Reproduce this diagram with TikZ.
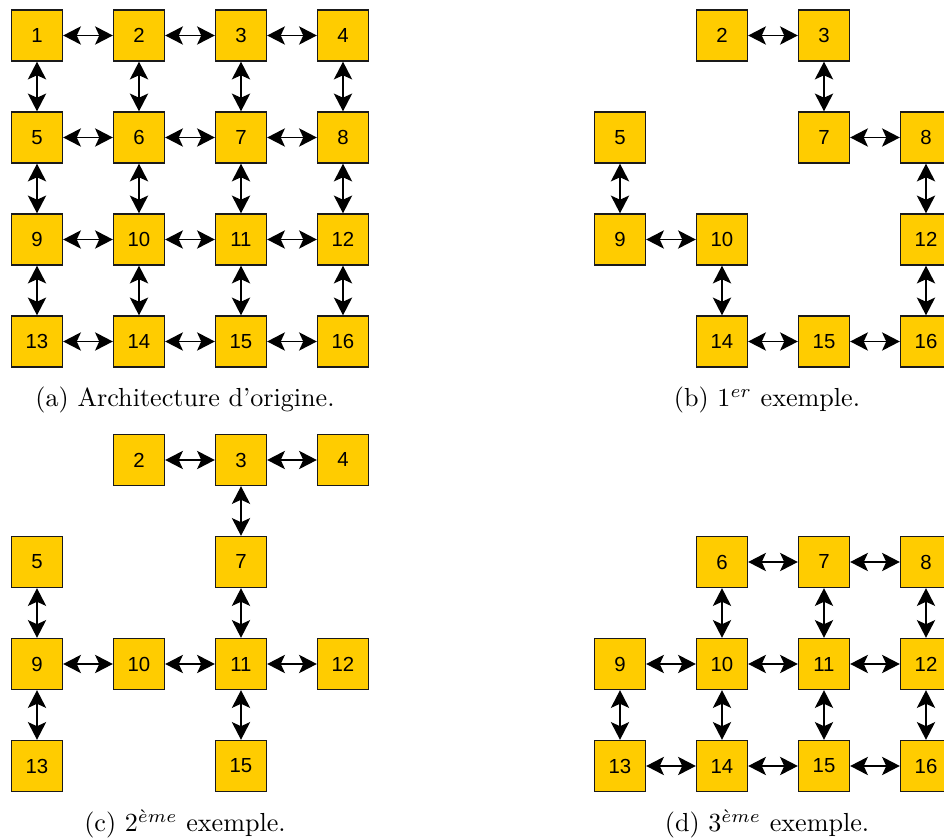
\documentclass[tikz,border=0pt]{standalone}
\usepackage{fontspec}
\newfontfamily\boxfont{Liberation Sans}
\usetikzlibrary{arrows.meta}
\definecolor{boxyellow}{HTML}{FFCC00}
\definecolor{boxedge}{HTML}{1A1A1A}
\begin{document}
\begin{tikzpicture}[x=0.383pt,y=-0.383pt,
  cell/.style={draw=boxedge,fill=boxyellow,line width=0.55pt,minimum size=19.5pt,inner sep=0pt,font=\boxfont\fontsize{7.8}{9}\selectfont},
  link/.style={{Stealth[length=6.8pt,width=7pt,inset=1.6pt]}-{Stealth[length=6.8pt,width=7pt,inset=1.6pt]},line width=0.65pt},
  captext/.style={anchor=base,inner sep=0pt,font=\normalsize}]
\useasboundingbox (0,0) rectangle (944,839);

% panel (a)
\foreach \n in {1,...,16} {
  \pgfmathtruncatemacro\cc{mod(\n-1,4)}
  \pgfmathtruncatemacro\rr{(\n-1)/4}
  \node[cell] (a\n) at ({37+102*\cc},{35.5+102*\rr}) {\n};
}
\foreach \s/\t in {1/2,2/3,3/4,5/6,6/7,7/8,9/10,10/11,11/12,13/14,14/15,15/16,
                   1/5,2/6,3/7,4/8,5/9,6/10,7/11,8/12,9/13,10/14,11/15,12/16}
  \draw[link] (a\s) -- (a\t);

% panel (b)
\foreach \n in {2,3,5,7,8,9,10,12,14,15,16} {
  \pgfmathtruncatemacro\cc{mod(\n-1,4)}
  \pgfmathtruncatemacro\rr{(\n-1)/4}
  \node[cell] (b\n) at ({620+102*\cc},{35.5+102*\rr}) {\n};
}
\foreach \s/\t in {2/3,3/7,5/9,7/8,8/12,9/10,10/14,12/16,14/15,15/16}
  \draw[link] (b\s) -- (b\t);

% panel (c)
\foreach \n in {2,3,4,5,7,9,10,11,12,13,15} {
  \pgfmathtruncatemacro\cc{mod(\n-1,4)}
  \pgfmathtruncatemacro\rr{(\n-1)/4}
  \node[cell] (c\n) at ({37+102*\cc},{460+102*\rr}) {\n};
}
\foreach \s/\t in {2/3,3/4,3/7,5/9,7/11,9/10,10/11,11/12,9/13,11/15}
  \draw[link] (c\s) -- (c\t);

% panel (d)
\foreach \n in {6,7,8,9,10,11,12,13,14,15,16} {
  \pgfmathtruncatemacro\cc{mod(\n-1,4)}
  \pgfmathtruncatemacro\rr{(\n-1)/4}
  \node[cell] (d\n) at ({620+102*\cc},{460+102*\rr}) {\n};
}
\foreach \s/\t in {6/7,7/8,6/10,7/11,8/12,9/10,10/11,11/12,9/13,10/14,11/15,12/16,13/14,14/15,15/16}
  \draw[link] (d\s) -- (d\t);

% captions
\node[captext] (capa) at (185,407) {(a) Architecture d'origine.};
\node[captext] (capb) at (767,407) {(b) $1^{er}$ exemple.};
\node[captext] (capc) at (185,831.7) {(c) $2^{\grave{e}me}$ exemple.};
\node[captext] (capd) at (767,831.7) {(d) $3^{\grave{e}me}$ exemple.};
\end{tikzpicture}
\end{document}
